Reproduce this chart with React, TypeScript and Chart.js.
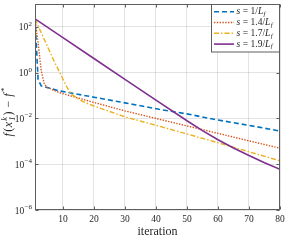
import React, { useEffect, useRef } from "react";
import { Chart, registerables } from "chart.js";

Chart.register(...registerables);

// ---- data ----
const seriesLabels = ["s = 1/L_f", "s = 1.4/L_f", "s = 1.7/L_f", "s = 1.9/L_f"];

const iterS1 = [1, 2, 3, 9, 20, 30, 41, 50, 60, 70, 80];
const gapS1 = [224, 0.5, 0.263, 0.158, 0.085, 0.048, 0.025, 0.0158, 0.0085, 0.005, 0.0028];

const iterS14 = [1, 2, 3, 4, 5, 9, 20, 30, 41, 50, 60, 70, 80];
const gapS14 = [224, 20, 1.26, 0.32, 0.224, 0.132, 0.05, 0.0214, 0.0093, 0.0047, 0.00224, 0.00105, 0.0005];

const iterS17 = [1, 3, 5, 7, 9, 11, 12, 13, 15, 17, 20, 30, 41, 50, 60, 70, 80];
const gapS17 = [224, 56, 14.1, 3.55, 1.0, 0.28, 0.158, 0.107, 0.071, 0.05, 0.035, 0.0117, 0.0046, 0.0021, 0.00087, 0.00035, 0.00014];

const iterS19 = [1, 10, 20, 30, 40, 50, 55, 60, 65, 70, 75, 80];
const gapS19 = [224, 33.9, 4.17, 0.513, 0.063, 0.0079, 0.00295, 0.00117, 0.00051, 0.00024, 0.000117, 0.00006];

const xTickValues = [10, 20, 30, 40, 50, 60, 70, 80];
const yTickValues = [1e-6, 1e-4, 1e-2, 1, 1e2];
const xAxisLabel = "iteration";

const SERIF = "'Liberation Serif', 'Times New Roman', serif";
const TEXT = "#262626";
const AXIS = "#5e5e5e";

const mk = (xs: number[], ys: number[]) => xs.map((x, i) => ({ x, y: ys[i] }));

type Seg = { t: string; italic?: boolean; size?: number; dy?: number; gapBefore?: number; stackWith?: { t: string; dy: number } };

function segsWidth(ctx: CanvasRenderingContext2D, segs: Seg[], base: number) {
  const fontOf = (s: Seg) => `${s.italic ? "italic " : ""}${s.size ?? base}px ${SERIF}`;
  return segs.map((s) => {
    ctx.font = fontOf(s);
    let w = ctx.measureText(s.t).width;
    if (s.stackWith) w = Math.max(w, ctx.measureText(s.stackWith.t).width);
    return w + (s.gapBefore ?? 0);
  });
}

function drawSegs(ctx: CanvasRenderingContext2D, segs: Seg[], x0: number, y0: number, base: number, align: "left" | "center" | "right") {
  const fontOf = (s: Seg) => `${s.italic ? "italic " : ""}${s.size ?? base}px ${SERIF}`;
  const widths = segsWidth(ctx, segs, base);
  const total = widths.reduce((a, b) => a + b, 0);
  let x = align === "center" ? x0 - total / 2 : align === "right" ? x0 - total : x0;
  ctx.textAlign = "left";
  segs.forEach((s, i) => {
    ctx.font = fontOf(s);
    x += s.gapBefore ?? 0;
    ctx.fillText(s.t, x, y0 + (s.dy ?? 0));
    if (s.stackWith) ctx.fillText(s.stackWith.t, x, y0 + s.stackWith.dy);
    x += widths[i] - (s.gapBefore ?? 0);
  });
}

const framePlugin = {
  id: "frame",
  afterDatasetsDraw(chart: any) {
    const { ctx, chartArea: a, scales } = chart;
    ctx.save();
    ctx.strokeStyle = AXIS;
    ctx.lineWidth = 1;
    const L = Math.round(a.left) + 0.5, R = Math.round(a.right) - 0.5;
    const T = Math.round(a.top) + 0.5, B = Math.round(a.bottom) - 0.5;
    ctx.strokeRect(L, T, R - L, B - T);
    ctx.beginPath();
    xTickValues.forEach((v) => {
      const px = Math.round(scales.x.getPixelForValue(v)) + 0.5;
      ctx.moveTo(px, B); ctx.lineTo(px, B - 3);
      ctx.moveTo(px, T); ctx.lineTo(px, T + 3);
    });
    yTickValues.forEach((v) => {
      const py = Math.round(scales.y.getPixelForValue(v)) + 0.5;
      ctx.moveTo(L, py); ctx.lineTo(L + 3, py);
      ctx.moveTo(R, py); ctx.lineTo(R - 3, py);
    });
    ctx.stroke();
    // y tick labels: 10 with raised exponent
    ctx.fillStyle = TEXT;
    ctx.textBaseline = "alphabetic";
    yTickValues.forEach((v) => {
      const py = scales.y.getPixelForValue(v);
      const e = String(Math.round(Math.log10(v)));
      drawSegs(ctx, [
        { t: "10" },
        { t: e.replace("-", "\u2212"), size: 7, dy: -4.5, gapBefore: 0.3 },
      ], L - 3.5, py + 3.5, 9.5, "right");
    });
    ctx.restore();
  },
};

const labelSegs = (label: string, base: number): Seg[] => {
  const m = label.match(/^s = (.*)\/L_f$/);
  const num = m ? m[1] : label;
  return [
    { t: "s", italic: true },
    { t: "=", gapBefore: 2.5 },
    { t: num + "/", gapBefore: 2.5 },
    { t: "L", italic: true },
    { t: "f", italic: true, size: base * 0.72, dy: 2.5, gapBefore: 0.3 },
  ];
};

const legendPlugin = {
  id: "boxLegend",
  afterDraw(chart: any) {
    const { ctx, chartArea: a } = chart;
    const ds = chart.data.datasets;
    ctx.save();
    const bx = 211.5, by = Math.round(a.top) + 0.5, bw = Math.round(a.right) - 0.5 - bx, bh = 47.5;
    ctx.fillStyle = "#ffffff";
    ctx.fillRect(bx, by, bw, bh);
    ctx.strokeStyle = AXIS;
    ctx.lineWidth = 1;
    ctx.strokeRect(bx, by, bw, bh);
    ds.forEach((d: any, i: number) => {
      const y = 11.7 + i * 10.8;
      ctx.save();
      ctx.strokeStyle = d.borderColor;
      ctx.lineWidth = d.borderWidth;
      ctx.setLineDash(d.borderDash || []);
      ctx.beginPath();
      ctx.moveTo(214, y);
      ctx.lineTo(234, y);
      ctx.stroke();
      ctx.restore();
      ctx.fillStyle = TEXT;
      ctx.textBaseline = "middle";
      drawSegs(ctx, labelSegs(d.label, 9.5), 236.5, y, 9.5, "left");
    });
    ctx.restore();
  },
};

const yTitlePlugin = {
  id: "yTitle",
  afterDraw(chart: any) {
    const { ctx } = chart;
    ctx.save();
    ctx.translate(9, 112);
    ctx.rotate(-Math.PI / 2);
    ctx.fillStyle = TEXT;
    ctx.textBaseline = "middle";
    const b = 12;
    const segs: Seg[] = [
      { t: "f", italic: true },
      { t: "(", gapBefore: 1.5 },
      { t: "x", italic: true, gapBefore: 0.5 },
      { t: "k", italic: true, size: 8.5, dy: -4.5, stackWith: { t: "1", dy: 4 }, gapBefore: 1 },
      { t: ")", gapBefore: 1 },
      { t: "\u2212", gapBefore: 4 },
      { t: "f", italic: true, gapBefore: 4 },
      { t: "*", size: 9, dy: -4.5, gapBefore: 1.5 },
    ];
    drawSegs(ctx, segs, 0, 0, b, "center");
    ctx.restore();
  },
};

export default function App() {
  const ref = useRef<HTMLCanvasElement | null>(null);
  useEffect(() => {
    document.body.style.margin = "0";
    if (!ref.current) return;
    const chart = new Chart(ref.current, {
      type: "line",
      data: {
        datasets: [
          {
            label: seriesLabels[0], data: mk(iterS1, gapS1), borderColor: "#0072BD",
            borderWidth: 1.6, borderDash: [5, 3], pointRadius: 0, order: 3, tension: 0,
          },
          {
            label: seriesLabels[1], data: mk(iterS14, gapS14), borderColor: "#D95319",
            borderWidth: 1.4, borderDash: [1.4, 1.4], pointRadius: 0, order: 2, tension: 0,
          },
          {
            label: seriesLabels[2], data: mk(iterS17, gapS17), borderColor: "#EDB120",
            borderWidth: 1.4, borderDash: [5, 2, 1.5, 2], pointRadius: 0, order: 1, tension: 0,
          },
          {
            label: seriesLabels[3], data: mk(iterS19, gapS19), borderColor: "#7E2F8E",
            borderWidth: 1.6, borderDash: [], pointRadius: 0, order: 0, tension: 0,
          },
        ] as any,
      },
      options: {
        animation: false,
        responsive: false,
        devicePixelRatio: 1,
        layout: { padding: { top: 4, right: 9, left: 0, bottom: 0 } },
        plugins: { legend: { display: false }, tooltip: { enabled: false } },
        scales: {
          x: {
            type: "linear", min: 1, max: 80,
            afterBuildTicks: (s: any) => { s.ticks = xTickValues.map((v) => ({ value: v })); },
            afterFit: (s: any) => { s.height = 31; },
            grid: { color: "rgba(38,38,38,0.13)", drawTicks: false },
            border: { display: false },
            ticks: { padding: 4, color: TEXT, font: { family: SERIF, size: 9.5 }, maxRotation: 0, autoSkip: false },
            title: { display: true, text: xAxisLabel, color: TEXT, font: { family: SERIF, size: 12, lineHeight: 1.2 }, padding: { top: 0, bottom: 2 } },
          },
          y: {
            type: "logarithmic", min: 1e-6, max: 1e3,
            afterBuildTicks: (s: any) => { s.ticks = yTickValues.map((v) => ({ value: v })); },
            afterFit: (s: any) => { s.width = 35; },
            grid: { color: "rgba(38,38,38,0.13)", drawTicks: false },
            border: { display: false },
            ticks: { display: false },
          },
        },
      } as any,
      plugins: [framePlugin, legendPlugin, yTitlePlugin],
    });
    return () => chart.destroy();
  }, []);
  return (
    <div style={{ width: 289, height: 241, background: "#fff" }}>
      <canvas ref={ref} width={289} height={241} />
    </div>
  );
}
